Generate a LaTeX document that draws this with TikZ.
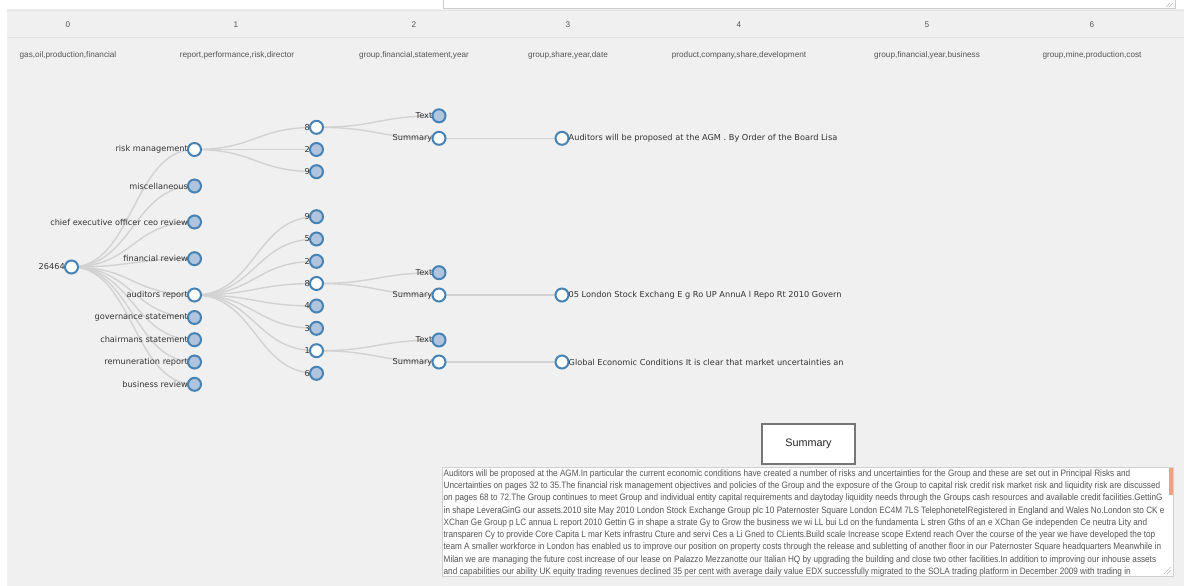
\documentclass[tikz,border=0pt]{standalone}
\usepackage{fontspec}
\setmainfont{DejaVu Sans}
\newfontfamily\arialf{Liberation Sans}
\newfontfamily\taf[FakeStretch=0.879]{Liberation Sans}
\usetikzlibrary{calc}
\definecolor{bgc}{HTML}{F0F0F0}
\definecolor{steel}{HTML}{4682B4}
\definecolor{lsteel}{HTML}{B0C4DE}
\definecolor{lnkc}{HTML}{D2D2D2}
\definecolor{txt}{HTML}{333333}
\definecolor{hdr}{HTML}{555555}
\definecolor{orng}{HTML}{F2A07E}
\definecolor{line1}{HTML}{E4E4E4}
\definecolor{line2}{HTML}{E0E0E0}
\definecolor{tab}{HTML}{CDCDCD}
\definecolor{grip}{HTML}{BEBEBE}
\definecolor{btnb}{HTML}{767676}
\definecolor{btnt}{HTML}{222222}
\definecolor{tab2}{HTML}{D0D0D0}
\pgfdeclarelayer{back}
\pgfdeclarelayer{links}
\pgfsetlayers{back,links,main}
\tikzset{
 tn/.style={circle, draw=steel, line width=2pt, minimum size=13pt, inner sep=0pt, outer sep=0pt, fill=lsteel},
 open/.style={fill=white},
 lab/.style={font=\fontsize{8.2}{9}\selectfont, text=txt, inner sep=0pt},
 ll/.style={label distance=2.8pt, label={[lab, anchor=east]left:#1}},
 rl/.style={label distance=2.8pt, label={[lab, anchor=west]right:#1}},
 lk/.style={draw=lnkc, line width=1.4pt},
 hd/.style={font=\arialf\fontsize{8.2}{9}\selectfont, text=hdr, inner sep=0pt},
 tal/.style={font=\taf\fontsize{9.3}{10}\selectfont, text=hdr, inner sep=0pt, anchor=west},
}
\newcommand\lnk[2]{\draw[lk] let \p1=(#1.center), \p2=(#2.center) in (\p1) .. controls ({(\x1+\x2)/2},\y1) and ({(\x1+\x2)/2},\y2) .. (\p2);}
\begin{document}
\begin{tikzpicture}[x=1pt,y=-1pt]
\useasboundingbox (0,0) rectangle (1184,586);
\begin{pgfonlayer}{back}
\fill[white] (0,0) rectangle (1184,586);
\fill[bgc] (7,5) rectangle (1184,586);
\fill[white] (0,0) rectangle (1184,9.5);
\draw[line1] (7,10.5) -- (1184,10.5);
\draw[line2] (7,37.5) -- (1184,37.5);
\draw[tab, fill=white] (443,-2) -- (443,8) -- (1175,8) -- (1175,-2);
\draw[grip, line width=0.5pt] (1166,7) -- (1170,3) (1169,7) -- (1173,3);
\end{pgfonlayer}

% header
\node[hd] (c0) at (68,25) {0};
\node[hd] (c1) at (236,25) {1};
\node[hd] (c2) at (414,25) {2};
\node[hd] (c3) at (568,25) {3};
\node[hd] (c4) at (739,25) {4};
\node[hd] (c5) at (927,25) {5};
\node[hd] (c6) at (1092,25) {6};
\node[hd] (k0) at (68,55) {gas,oil,production,financial};
\node[hd] (k1) at (237,55) {report,performance,risk,director};
\node[hd] (k2) at (414,55) {group,financial,statement,year};
\node[hd] (k3) at (568,55) {group,share,year,date};
\node[hd] (k4) at (739,55) {product,company,share,development};
\node[hd] (k5) at (927,55) {group,financial,year,business};
\node[hd] (k6) at (1092,55) {group,mine,production,cost};

% tree
\node[tn, open, ll=26464] (root) at (71.5,267) {};
\node[tn, open, ll=risk management] (rm) at (194.5,149.5) {};
\node[tn, ll=miscellaneous] (misc) at (194.5,186) {};
\node[tn, ll=chief executive officer ceo review] (ceo) at (194.5,222) {};
\node[tn, ll=financial review] (fin) at (194.5,258.7) {};
\node[tn, open, ll=auditors report] (aud) at (194.5,295) {};
\node[tn, ll=governance statement] (gov) at (194.5,317.5) {};
\node[tn, ll=chairmans statement] (chair) at (194.5,339.7) {};
\node[tn, ll=remuneration report] (rem) at (194.5,362) {};
\node[tn, ll=business review] (bus) at (194.5,384.3) {};

\node[tn, open, ll=8] (a8) at (316.5,127.3) {};
\node[tn, ll=2] (a2) at (316.5,149.5) {};
\node[tn, ll=9] (a9) at (316.5,171.7) {};

\node[tn, ll=9] (b9) at (316.5,216.7) {};
\node[tn, ll=5] (b5) at (316.5,239) {};
\node[tn, ll=2] (b2) at (316.5,261.3) {};
\node[tn, open, ll=8] (b8) at (316.5,283.5) {};
\node[tn, ll=4] (b4) at (316.5,306) {};
\node[tn, ll=3] (b3) at (316.5,328.3) {};
\node[tn, open, ll=1] (b1) at (316.5,350.7) {};
\node[tn, ll=6] (b6) at (316.5,373.3) {};

\node[tn, ll=Text] (t1) at (439,115.8) {};
\node[tn, open, ll=Summary] (s1) at (439,138.3) {};
\node[tn, ll=Text] (t2) at (439,272.7) {};
\node[tn, open, ll=Summary] (s2) at (439,295) {};
\node[tn, ll=Text] (t3) at (439,340) {};
\node[tn, open, ll=Summary] (s3) at (439,362) {};

\begin{scope}
\clip (540,100) rectangle (842,400);
\node[tn, open, rl=Auditors will be proposed at the AGM . By Order of the Board Lisa] (d1) at (562,138.3) {};
\node[tn, open, rl=05 London Stock Exchang E g Ro UP AnnuA l Repo Rt 2010 Govern] (d2) at (562,295) {};
\node[tn, open, rl=Global Economic Conditions It is clear that market uncertainties and] (d3) at (562,362) {};
\end{scope}

\begin{pgfonlayer}{links}
\foreach \c in {rm,misc,ceo,fin,aud,gov,chair,rem,bus} {\lnk{root}{\c}}
\foreach \c in {a8,a2,a9} {\lnk{rm}{\c}}
\foreach \c in {b9,b5,b2,b8,b4,b3,b1,b6} {\lnk{aud}{\c}}
\lnk{a8}{t1}\lnk{a8}{s1}
\lnk{b8}{t2}\lnk{b8}{s2}
\lnk{b1}{t3}\lnk{b1}{s3}
\lnk{s1}{d1}\lnk{s2}{d2}\lnk{s3}{d3}
\end{pgfonlayer}

% summary button
\node[draw=btnb, line width=1.5pt, fill=white, minimum width=93pt, minimum height=40pt, inner sep=0pt, font=\arialf\fontsize{10.8}{12}\selectfont, text=btnt] (btn) at (808.5,444) {Summary};

% textarea
\node[draw=tab2, line width=0.8pt, fill=white, minimum width=731pt, minimum height=109pt, inner sep=0pt, anchor=north west] (ta) at (442,467) {};
\fill[orng] (1169,468) rectangle (1172.5,495);
\begin{scope}
\clip (442.5,467.5) rectangle (1168.5,575.5);
\node[tal] (l1) at (443.5,474) {Auditors will be proposed at the AGM.In particular the current economic conditions have created a number of risks and uncertainties for the Group and these are set out in Principal Risks and};
\node[tal] (l2) at (443.5,486.25) {Uncertainties on pages 32 to 35.The financial risk management objectives and policies of the Group and the exposure of the Group to capital risk credit risk market risk and liquidity risk are discussed};
\node[tal] (l3) at (443.5,498.5) {on pages 68 to 72.The Group continues to meet Group and individual entity capital requirements and daytoday liquidity needs through the Groups cash resources and available credit facilities.GettinG};
\node[tal] (l4) at (443.5,510.75) {in shape LeveraGinG our assets.2010 site May 2010 London Stock Exchange Group plc 10 Paternoster Square London EC4M 7LS TelephonetelRegistered in England and Wales No.London sto CK e};
\node[tal] (l5) at (443.5,523) {XChan Ge Group p LC annua L report 2010 Gettin G in shape a strate Gy to Grow the business we wi LL bui Ld on the fundamenta L stren Gths of an e XChan Ge independen Ce neutra Lity and};
\node[tal] (l6) at (443.5,535.25) {transparen Cy to provide Core Capita L mar Kets infrastru Cture and servi Ces a Li Gned to CLients.Build scale Increase scope Extend reach Over the course of the year we have developed the top};
\node[tal] (l7) at (443.5,547.5) {team A smaller workforce in London has enabled us to improve our position on property costs through the release and subletting of another floor in our Paternoster Square headquarters Meanwhile in};
\node[tal] (l8) at (443.5,559.75) {Milan we are managing the future cost increase of our lease on Palazzo Mezzanotte our Italian HQ by upgrading the building and close two other facilities.In addition to improving our inhouse assets};
\node[tal] (l9) at (443.5,572) {and capabilities our ability UK equity trading revenues declined 35 per cent with average daily value EDX successfully migrated to the SOLA trading platform in December 2009 with trading in};
\end{scope}
\draw[grip, line width=0.5pt] (1164,574) -- (1171,567) (1167,574) -- (1171,570);
\end{tikzpicture}
\end{document}
